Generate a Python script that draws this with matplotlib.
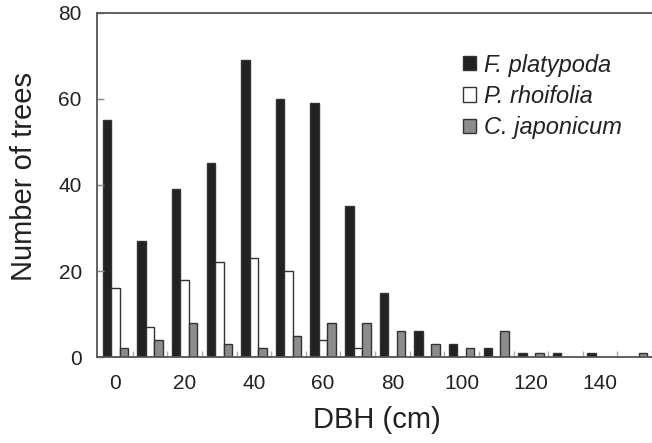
import numpy as np
import matplotlib.pyplot as plt

####################################
#               Data               #
####################################

# DBH classes (cm)
dbh = [0, 10, 20, 30, 40, 50, 60, 70, 80, 90, 100, 110, 120, 130, 140, 150]
f_platypoda = [55, 27, 39, 45, 69, 60, 59, 35, 15, 6, 3, 2, 1, 1, 1, 0]
p_rhoifolia = [16, 7, 18, 22, 23, 20, 4, 2, 0, 0, 0, 0, 0, 0, 0, 0]
c_japonicum = [2, 4, 8, 3, 2, 5, 8, 8, 6, 3, 2, 6, 1, 0, 0, 1]
species = ['F. platypoda', 'P. rhoifolia', 'C. japonicum']

####################################
#              Figure              #
####################################

plt.rcParams['font.family'] = ['Liberation Sans', 'DejaVu Sans']
fig = plt.figure(figsize=(6.52, 4.43), dpi=100, facecolor='w')
ax = fig.add_axes([0.149, 0.194, 0.851, 0.777])

x = np.arange(len(dbh))
w = 0.245
ax.bar(x - w, f_platypoda, w, color='#222222', edgecolor='#333333', linewidth=1.0, label=species[0])
ax.bar(x, p_rhoifolia, w, color='white', edgecolor='#333333', linewidth=1.0, label=species[1])
ax.bar(x + w, c_japonicum, w, color='#8c8c8c', edgecolor='#333333', linewidth=1.0, label=species[2])

ax.set_xlim(-0.53, 15.33)
ax.set_ylim(0, 80)

# every other class is labelled
ax.set_xticks(x[::2])
ax.set_xticklabels([str(v) for v in dbh[::2]])
ax.set_xticks(x + 0.5, minor=True)
ax.tick_params(axis='x', which='major', length=0, pad=12, labelsize=15, labelcolor='#222222')
ax.tick_params(axis='x', which='minor', direction='in', length=4, width=1, color='#aaaaaa')

ax.set_yticks([0, 20, 40, 60, 80])
ax.tick_params(axis='y', direction='in', length=5, width=1, color='#888888', pad=11,
               labelsize=15, labelcolor='#222222')

for side in ['left', 'bottom', 'top']:
    ax.spines[side].set_color('#555555')
    ax.spines[side].set_linewidth(1.3)
ax.spines['right'].set_visible(False)

ax.set_xlabel('DBH (cm)', fontsize=21, color='#222222')
ax.set_ylabel('Number of trees', fontsize=21, color='#222222')
ax.xaxis.set_label_coords(0.505, -0.142)
ax.yaxis.set_label_coords(-0.106, 0.526)

leg = ax.legend(loc='upper left', bbox_to_anchor=(0.638, 0.916), frameon=False, borderpad=0,
                prop={'style': 'italic', 'size': 17}, handlelength=0.55, handleheight=0.55,
                handletextpad=0.35, labelspacing=0.35)
for t in leg.get_texts():
    t.set_color('#222222')

plt.savefig('out.png', dpi=100, facecolor='w')
